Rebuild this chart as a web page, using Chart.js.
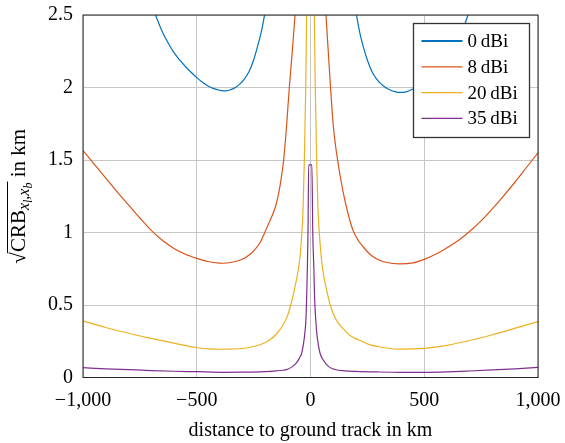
<!DOCTYPE html>
<html>
<head>
<meta charset="utf-8">
<script src="https://cdn.jsdelivr.net/npm/chart.js@4.4.1/dist/chart.umd.min.js"></script>
<style>
  html, body { margin: 0; padding: 0; background: #fff; }
  #wrap { width: 565px; height: 443px; }
</style>
</head>
<body>
<div id="wrap"><canvas id="crbChart" width="565" height="443"></canvas></div>
<script>
// axis ticks
const xTicks = [-1000, -500, 0, 500, 1000];
const xTickLabels = ['\u22121,000', '\u2212500', '0', '500', '1,000'];
const yTicks = [0, 0.5, 1, 1.5, 2, 2.5];
const yTickLabels = ['0', '0.5', '1', '1.5', '2', '2.5'];

const seriesNames = ['0\u2009dBi', '8\u2009dBi', '20\u2009dBi', '35\u2009dBi'];
const seriesColors = ['#0072BD', '#D95319', '#EDB120', '#7E2F8E'];

// distance to ground track (km) / sqrt(CRB) (km)
const x0 = [-720, -700, -685, -670, -650, -625, -600, -575, -550, -525, -500, -475, -450, -425, -400, -385, -370,
            -350, -330, -310, -290, -270, -250, -235, -220, -210, -200, -190,
            190, 200, 210, 220, 235, 250, 270, 290, 310, 330, 350, 370, 393, 420, 450, 475, 500, 525, 550, 575,
            600, 625, 650, 670, 690, 700, 720];
const y0 = [2.67, 2.58, 2.515, 2.455, 2.38, 2.305, 2.24, 2.19, 2.145, 2.105, 2.068, 2.036, 2.01, 1.992, 1.981, 1.977,
            1.977, 1.985, 2.0, 2.025, 2.06, 2.11, 2.19, 2.27, 2.36, 2.43, 2.52, 2.62,
            2.62, 2.52, 2.43, 2.355, 2.265, 2.19, 2.11, 2.06, 2.025, 2.0, 1.983, 1.972, 1.966, 1.97, 1.99, 2.015,
            2.045, 2.08, 2.12, 2.165, 2.215, 2.27, 2.335, 2.4, 2.49, 2.54, 2.64];

const x8 = [-1000, -950, -900, -850, -800, -750, -700, -650, -600, -550, -500, -450, -400, -385, -350, -300, -267,
            -240, -220, -201, -180, -160, -150, -140, -130, -118, -105, -93, -80, -68, -60,
            64, 68, 78, 88, 100, 110, 120, 135, 150, 170, 188, 210, 232, 260, 291, 330, 393, 450, 500, 550, 600,
            650, 694, 750, 800, 850, 900, 950, 1000];
const y8 = [1.565, 1.47, 1.375, 1.28, 1.19, 1.10, 1.015, 0.945, 0.89, 0.85, 0.822, 0.80, 0.789, 0.788, 0.793, 0.815,
            0.848, 0.89, 0.935, 1.0, 1.075, 1.15, 1.2, 1.27, 1.36, 1.5, 1.74, 2.0, 2.25, 2.5, 2.66,
            2.6, 2.5, 2.25, 2.0, 1.74, 1.6, 1.49, 1.35, 1.23, 1.1, 1.01, 0.945, 0.9, 0.852, 0.817, 0.795, 0.783,
            0.79, 0.815, 0.85, 0.895, 0.945, 1.0, 1.08, 1.165, 1.255, 1.35, 1.45, 1.55];

const x20 = [-1000, -900, -800, -700, -600, -500, -450, -400, -350, -300, -250, -200, -178, -150, -121, -100, -87,
             -70, -54, -45, -40, -33, -27, -21, -17, -14,
             14, 17, 21, 27, 33, 40, 45, 54, 70, 87, 100, 120, 144, 170, 196, 218, 250, 300, 350, 393, 450, 500,
             600, 700, 800, 900, 1000];
const y20 = [0.39, 0.345, 0.305, 0.27, 0.237, 0.205, 0.198, 0.195, 0.196, 0.20, 0.214, 0.24, 0.26, 0.30, 0.36, 0.43,
             0.5, 0.61, 0.74, 0.85, 0.95, 1.15, 1.5, 2.0, 2.5, 2.9,
             2.9, 2.5, 2.0, 1.5, 1.15, 0.97, 0.87, 0.74, 0.61, 0.5, 0.44, 0.38, 0.335, 0.295, 0.27, 0.255, 0.232,
             0.212, 0.2, 0.196, 0.197, 0.201, 0.222, 0.255, 0.295, 0.34, 0.385];

const x35 = [-1000, -900, -800, -700, -600, -500, -385, -300, -200, -150, -121, -105, -80, -60, -50, -39, -30, -24,
             -20, -17, -14, -11, -8,
             6, 10, 15, 18, 23, 28, 34, 42, 56, 80, 108, 150, 200, 300, 393, 500, 600, 700, 800, 900, 1000];
const y35 = [0.068, 0.06, 0.054, 0.048, 0.043, 0.040, 0.036, 0.037, 0.041, 0.046, 0.05, 0.054, 0.075, 0.105, 0.13,
             0.167, 0.24, 0.32, 0.40, 0.55, 0.74, 1.0, 1.466,
             1.466, 1.0, 0.74, 0.55, 0.40, 0.30, 0.23, 0.167, 0.121, 0.075, 0.055, 0.046, 0.042, 0.038, 0.036,
             0.036, 0.039, 0.045, 0.052, 0.06, 0.07];

const seriesX = [x0, x8, x20, x35];
const seriesY = [y0, y8, y20, y35];

const serif = 'Liberation Serif';

// legend box, frame and the y-axis label with subscripts
const decorations = {
  id: 'decorations',
  afterDraw(chart) {
    const ctx = chart.ctx;
    const a = chart.chartArea;
    ctx.save();

    // frame
    ctx.strokeStyle = '#222';
    ctx.lineWidth = 1;
    ctx.strokeRect(a.left, a.top, a.right - a.left, a.bottom - a.top);

    // legend
    const lx = 413.5, ly = 23.5, lw = 116, lh = 114;
    ctx.fillStyle = '#fff';
    ctx.fillRect(lx, ly, lw, lh);
    ctx.strokeStyle = '#333';
    ctx.lineWidth = 1.3;
    ctx.strokeRect(lx, ly, lw, lh);
    ctx.font = '19px "' + serif + '"';
    ctx.textBaseline = 'alphabetic';
    ctx.textAlign = 'left';
    chart.data.datasets.forEach((ds, i) => {
      const ry = ly + 17.5 + i * 25.8;
      ctx.strokeStyle = ds.borderColor;
      ctx.lineWidth = i === 0 ? 1.8 : 1.2;
      ctx.beginPath();
      ctx.moveTo(lx + 8, ry);
      ctx.lineTo(lx + 49, ry);
      ctx.stroke();
      ctx.fillStyle = '#000';
      ctx.fillText(ds.label, lx + 54, ry + 6);
    });

    // y axis title: sqrt(CRB_{x_l,x_b}) in km
    const parts = [
      { t: '\u221A', f: '21px "' + serif + '"', dy: 0 },
      { t: 'CRB', f: '21px "' + serif + '"', dy: 0, over: true },
      { t: 'x', f: 'italic 16px "' + serif + '"', dy: 4, over: true },
      { t: 'l', f: 'italic 12px "' + serif + '"', dy: 7, over: true },
      { t: ',', f: '16px "' + serif + '"', dy: 4, over: true },
      { t: 'x', f: 'italic 16px "' + serif + '"', dy: 4, over: true },
      { t: 'b', f: 'italic 12px "' + serif + '"', dy: 7, over: true },
      { t: ' in km', f: '21px "' + serif + '"', dy: 0 }
    ];
    let total = 0;
    parts.forEach(p => { ctx.font = p.f; p.w = ctx.measureText(p.t).width; total += p.w; });
    ctx.translate(25, (a.top + a.bottom) / 2);
    ctx.rotate(-Math.PI / 2);
    ctx.fillStyle = '#000';
    let cx = -total / 2;
    let overStart = null, overEnd = null;
    parts.forEach(p => {
      ctx.font = p.f;
      ctx.fillText(p.t, cx, p.dy);
      if (p.over) {
        if (overStart === null) overStart = cx;
        overEnd = cx + p.w;
      }
      cx += p.w;
    });
    ctx.strokeStyle = '#000';
    ctx.lineWidth = 1;
    ctx.beginPath();
    ctx.moveTo(overStart - 1, -17.5);
    ctx.lineTo(overEnd + 1, -17.5);
    ctx.stroke();

    ctx.restore();
  }
};

const ctx = document.getElementById('crbChart').getContext('2d');
const crbChart = new Chart(ctx, {
  type: 'line',
  data: {
    datasets: seriesNames.map((name, i) => ({
      label: name,
      data: seriesX[i].map((x, j) => ({ x: x, y: seriesY[i][j] })),
      borderColor: seriesColors[i],
      backgroundColor: seriesColors[i],
      borderWidth: 1.2,
      pointRadius: 0,
      cubicInterpolationMode: 'monotone',
      fill: false
    }))
  },
  options: {
    responsive: false,
    animation: false,
    devicePixelRatio: 1,
    layout: { padding: { top: 15, right: 27, left: 0, bottom: 0 } },
    plugins: {
      legend: { display: false },
      tooltip: { enabled: false }
    },
    scales: {
      x: {
        type: 'linear',
        min: -1000,
        max: 1000,
        afterBuildTicks: s => { s.ticks = xTicks.map(v => ({ value: v })); },
        afterFit: s => {
          s.height = 65.5;
          s.paddingLeft = 0;
          s.paddingRight = 0;
        },
        ticks: {
          color: '#000',
          font: { family: serif, size: 20 },
          padding: 11,
          maxRotation: 0,
          callback: v => xTickLabels[xTicks.indexOf(v)]
        },
        grid: { color: '#c6c6c6', lineWidth: 1, drawTicks: false },
        border: { display: false },
        title: {
          display: true,
          text: 'distance to ground track in km',
          color: '#000',
          font: { family: serif, size: 20 },
          padding: { top: 0, bottom: 0 }
        }
      },
      y: {
        min: 0,
        max: 2.5,
        afterBuildTicks: s => { s.ticks = yTicks.map(v => ({ value: v })); },
        afterFit: s => {
          s.width = 83;
          s.paddingTop = 0;
          s.paddingBottom = 0;
        },
        ticks: {
          color: '#000',
          font: { family: serif, size: 20 },
          padding: 10,
          callback: v => yTickLabels[yTicks.indexOf(v)]
        },
        grid: { color: '#c6c6c6', lineWidth: 1, drawTicks: false },
        border: { display: false }
      }
    }
  },
  plugins: [decorations]
});
</script>
</body>
</html>
